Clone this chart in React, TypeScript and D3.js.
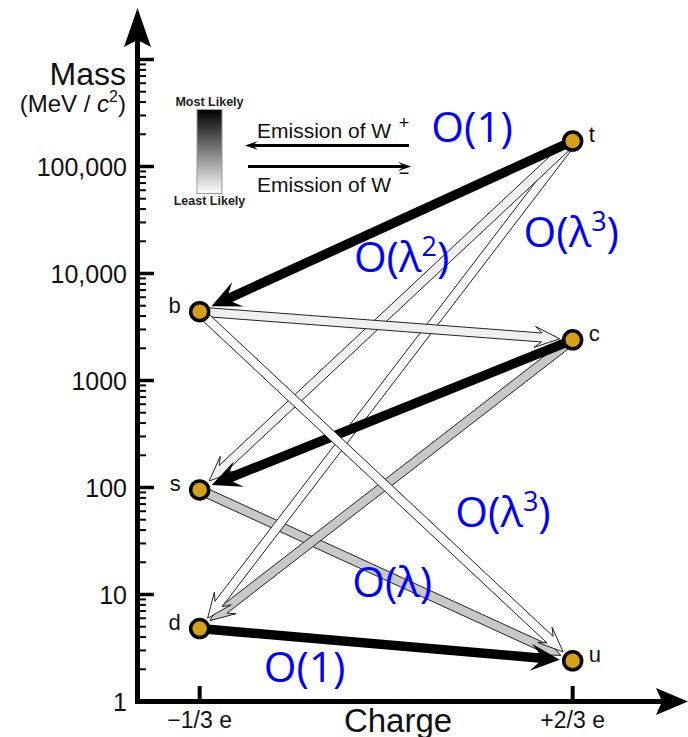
import React, { useRef, useEffect } from 'react';
import * as d3 from 'd3';

// quarks: name, electric charge (e), mass (MeV/c^2)
const quarkNames = ['t', 'b', 'c', 's', 'd', 'u'];
const quarkCharges = [2 / 3, -1 / 3, 2 / 3, -1 / 3, -1 / 3, 2 / 3];
const quarkMasses = [173000, 4400, 2400, 95, 4.8, 2.4];

// transitions, drawn bottom to top; order = power of lambda
const decayFrom = ['s', 'd', 'c', 't', 't', 'c', 'b', 'b', 't'];
const decayTo = ['u', 'u', 'd', 'd', 's', 's', 'c', 'u', 'b'];
const decayOrder = [1, 0, 1, 3, 2, 0, 2, 3, 0];

// O(lambda^n) annotations, placed in (charge, mass) space
const annPower = [0, 2, 3, 3, 1, 0];
const annCharge = [0.397, 0.208, 0.663, 0.48, 0.183, -0.052];
const annMass = [169500, 10330, 17700, 42.7, 9.5, 1.52];

const yTickValues = [1, 10, 100, 1000, 10000, 100000, 1000000];
const yTickLabels = ['1', '10', '100', '1000', '10,000', '100,000', ''];
const xTickValues = [-1 / 3, 2 / 3];
const xTickLabels = ['\u22121/3 e', '+2/3 e'];

const orderFill = ['#000000', '#c8c8c8', '#f0f0f0', '#fbfbfb'];

const arrowPath = (x1, y1, x2, y2, w, L, H, gap) => {
  const dx = x2 - x1, dy = y2 - y1, len = Math.hypot(dx, dy);
  const ux = dx / len, uy = dy / len, nx = -uy, ny = ux;
  const tip = len - gap;
  const pt = (a, b) => [x1 + ux * a + nx * b, y1 + uy * a + ny * b];
  const pts = [
    pt(0, -w / 2), pt(tip - L * 0.72, -w / 2), pt(tip - L, -H / 2), pt(tip, 0),
    pt(tip - L, H / 2), pt(tip - L * 0.72, w / 2), pt(0, w / 2),
  ];
  return 'M' + pts.map(p => p[0].toFixed(2) + ',' + p[1].toFixed(2)).join('L') + 'Z';
};

const App = () => {
  const chartRef = useRef(null);

  useEffect(() => {
    const svg = d3.select(chartRef.current);
    svg.selectAll('*').remove();

    const x = d3.scaleLinear().domain([-0.5, 1]).range([137.5, 697]);
    const y = d3.scaleLog().domain([1, 1e6]).range([701.5, 59.5]);
    const sans = 'Liberation Sans, Arial, sans-serif';

    const pos = {};
    quarkNames.forEach((n, i) => {
      pos[n] = [x(quarkCharges[i]), y(quarkMasses[i])];
    });

    // y axis minor ticks
    const minor = [];
    for (let d = 1; d < 1e6; d *= 10) for (let k = 2; k < 10; k++) minor.push(d * k);
    svg.append('g').selectAll('line').data(minor).enter().append('line')
      .attr('x1', 139).attr('x2', 146)
      .attr('y1', d => y(d)).attr('y2', d => y(d))
      .attr('stroke', '#000').attr('stroke-width', 2);

    svg.append('g').selectAll('line').data(yTickValues.slice(1)).enter().append('line')
      .attr('x1', 139).attr('x2', 154)
      .attr('y1', d => y(d)).attr('y2', d => y(d))
      .attr('stroke', '#000').attr('stroke-width', 3.5);

    svg.append('g').selectAll('text').data(yTickValues).enter().append('text')
      .attr('x', 127).attr('y', d => y(d)).attr('dy', '0.36em')
      .attr('text-anchor', 'end').attr('font-family', sans).attr('font-size', 25)
      .attr('fill', '#111')
      .text((d, i) => yTickLabels[i]);

    // x ticks
    svg.append('g').selectAll('line').data(xTickValues).enter().append('line')
      .attr('x1', d => x(d)).attr('x2', d => x(d))
      .attr('y1', 700).attr('y2', 686)
      .attr('stroke', '#000').attr('stroke-width', 4);

    svg.append('g').selectAll('text').data(xTickValues).enter().append('text')
      .attr('x', d => x(d)).attr('y', 728)
      .attr('text-anchor', 'middle').attr('font-family', sans).attr('font-size', 23)
      .attr('fill', '#111')
      .text((d, i) => xTickLabels[i]);

    // axes
    svg.append('line').attr('x1', 137.5).attr('x2', 137.5).attr('y1', 704).attr('y2', 40)
      .attr('stroke', '#000').attr('stroke-width', 5);
    svg.append('line').attr('x1', 135).attr('x2', 664).attr('y1', 701.5).attr('y2', 701.5)
      .attr('stroke', '#000').attr('stroke-width', 5);
    svg.append('path')
      .attr('d', 'M137.5,8 L151,47 L137.5,40 L124,47 Z').attr('fill', '#000');
    svg.append('path')
      .attr('d', 'M688,701.5 L656,715 L662,701.5 L656,688 Z').attr('fill', '#000');

    // axis titles
    svg.append('text').attr('x', 126).attr('y', 85).attr('text-anchor', 'end')
      .attr('font-family', sans).attr('font-size', 32).attr('fill', '#111').text('Mass');
    const unit = svg.append('text').attr('x', 126).attr('y', 112).attr('text-anchor', 'end')
      .attr('font-family', sans).attr('font-size', 24).attr('fill', '#111');
    unit.append('tspan').text('(MeV / ');
    unit.append('tspan').attr('font-style', 'italic').text('c');
    unit.append('tspan').attr('dy', -10).attr('font-size', 16).text('2');
    unit.append('tspan').attr('dy', 10).text(')');

    svg.append('text').attr('x', 398).attr('y', 732).attr('text-anchor', 'middle')
      .attr('font-family', sans).attr('font-size', 33).attr('fill', '#111').text('Charge');

    // transitions
    svg.append('g').selectAll('path').data(decayFrom).enter().append('path')
      .attr('d', (d, i) => {
        const a = pos[d], b = pos[decayTo[i]];
        return decayOrder[i] === 0
          ? arrowPath(a[0], a[1], b[0], b[1], 9.5, 29, 27, 13)
          : arrowPath(a[0], a[1], b[0], b[1], 9, 25, 21, 13);
      })
      .attr('fill', (d, i) => orderFill[decayOrder[i]])
      .attr('stroke', (d, i) => (decayOrder[i] === 0 ? 'none' : '#222'))
      .attr('stroke-width', 1)
      .attr('stroke-linejoin', 'miter');

    // quarks
    svg.append('g').selectAll('circle').data(quarkNames).enter().append('circle')
      .attr('cx', d => pos[d][0]).attr('cy', d => pos[d][1]).attr('r', 9)
      .attr('fill', '#d4a017').attr('stroke', '#000').attr('stroke-width', 3.5);
    svg.append('g').selectAll('text').data(quarkNames).enter().append('text')
      .attr('x', (d, i) => (quarkCharges[i] > 0 ? pos[d][0] + 16 : pos[d][0] - 19))
      .attr('y', d => pos[d][1] + 1)
      .attr('text-anchor', (d, i) => (quarkCharges[i] > 0 ? 'start' : 'end'))
      .attr('font-family', sans).attr('font-size', 22).attr('fill', '#111')
      .text(d => d);

    // O(lambda^n) labels
    const ann = svg.append('g').selectAll('text').data(annPower).enter().append('text')
      .attr('x', (d, i) => x(annCharge[i])).attr('y', (d, i) => y(annMass[i]))
      .attr('text-anchor', 'middle').attr('font-family', 'Open Sans, sans-serif')
      .attr('font-size', 42).attr('fill', '#0000ff');
    ann.each(function (p) {
      const t = d3.select(this);
      if (p === 0) t.text('O(1)');
      else if (p === 1) t.text('O(\u03bb)');
      else {
        t.append('tspan').text('O(\u03bb');
        t.append('tspan').attr('dy', -16).attr('font-size', 27).text(String(p));
        t.append('tspan').attr('dy', 16).text(')');
      }
    });

    // legend
    const defs = svg.append('defs');
    const grad = defs.append('linearGradient').attr('id', 'likely')
      .attr('x1', 0).attr('y1', 0).attr('x2', 0).attr('y2', 1);
    grad.append('stop').attr('offset', '0%').attr('stop-color', '#000');
    grad.append('stop').attr('offset', '100%').attr('stop-color', '#fff');
    svg.append('rect').attr('x', 197).attr('y', 109.5).attr('width', 25).attr('height', 84)
      .attr('fill', 'url(#likely)').attr('stroke', '#999').attr('stroke-width', 1);
    svg.append('text').attr('x', 209.5).attr('y', 106).attr('text-anchor', 'middle')
      .attr('font-family', sans).attr('font-weight', 'bold').attr('font-size', 12.5)
      .attr('fill', '#222').text('Most Likely');
    svg.append('text').attr('x', 209.5).attr('y', 205).attr('text-anchor', 'middle')
      .attr('font-family', sans).attr('font-weight', 'bold').attr('font-size', 12.5)
      .attr('fill', '#222').text('Least Likely');

    svg.append('path').attr('d', arrowPath(409, 145.5, 245, 145.5, 3, 13, 9, 0)).attr('fill', '#000');
    svg.append('path').attr('d', arrowPath(248, 166.5, 411, 166.5, 3, 13, 9, 0)).attr('fill', '#000');
    svg.append('text').attr('x', 257).attr('y', 138).attr('font-family', sans)
      .attr('font-size', 21).attr('fill', '#111').text('Emission of W');
    svg.append('text').attr('x', 404).attr('y', 129).attr('text-anchor', 'middle')
      .attr('font-family', sans).attr('font-size', 18).attr('fill', '#111').text('+');
    svg.append('text').attr('x', 257).attr('y', 192).attr('font-family', sans)
      .attr('font-size', 21).attr('fill', '#111').text('Emission of W');
    svg.append('text').attr('x', 404).attr('y', 179).attr('text-anchor', 'middle')
      .attr('font-family', sans).attr('font-size', 18).attr('fill', '#111').text('\u2212');
  }, []);

  return (
    <div style={{ position: 'absolute', left: 0, top: 0 }}>
      <svg ref={chartRef} width={688} height={737} style={{ display: 'block', background: '#fff' }}></svg>
    </div>
  );
};

export default App;
